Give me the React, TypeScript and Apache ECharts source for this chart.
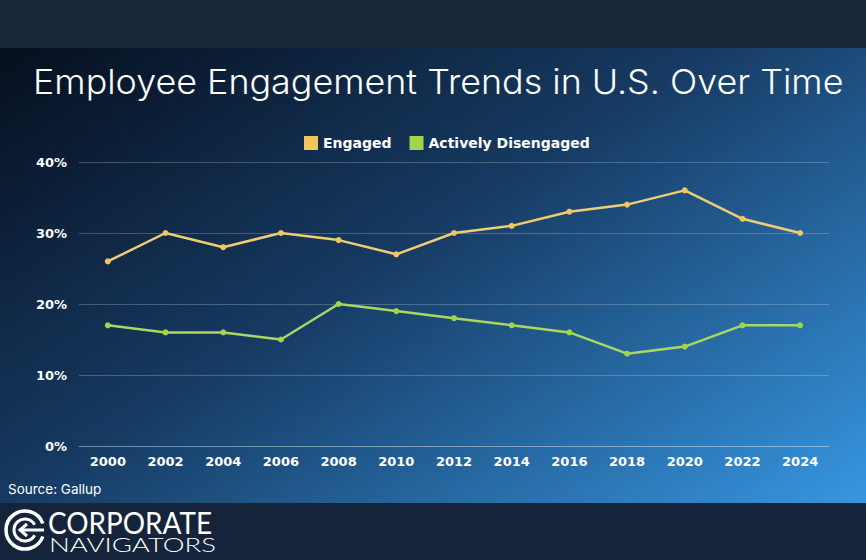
import React, { useEffect, useRef } from "react";
import * as echarts from "echarts";

const years = ["2000", "2002", "2004", "2006", "2008", "2010", "2012", "2014", "2016", "2018", "2020", "2022", "2024"];
const engaged = [26, 30, 28, 30, 29, 27, 30, 31, 33, 34, 36, 32, 30];
const disengaged = [17, 16, 16, 15, 20, 19, 18, 17, 16, 13, 14, 17, 17];
const seriesNames = ["Engaged", "Actively Disengaged"];
const title = "Employee Engagement Trends in U.S. Over Time";
const source = "Source: Gallup";

export default function App() {
  const ref = useRef<HTMLDivElement>(null);
  useEffect(() => {
    document.body.style.margin = "0";
    const chart = echarts.init(ref.current!, undefined, { renderer: "svg" });
    const bold = { color: "#ffffff", fontWeight: 700, fontSize: 13, fontFamily: "DejaVu Sans" };
    chart.setOption({
      animation: false,
      backgroundColor: {
        type: "linear", x: 0, y: 0, x2: 1, y2: 1,
        colorStops: [
          { offset: 0, color: "#040a16" },
          { offset: 0.45, color: "#163a62" },
          { offset: 1, color: "#3aa0ee" },
        ],
      },
      graphic: [
        { type: "rect", left: 0, top: 0, shape: { width: 866, height: 48 }, style: { fill: "#1a263a" }, z: 0 },
        { type: "rect", left: 0, top: 503, shape: { width: 866, height: 57 }, style: { fill: "#15243a" }, z: 0 },
        {
          type: "text", x: 33, y: 64, scaleX: 1.055,
          style: { text: title, fill: "#ffffff", fontSize: 34, fontWeight: 300, fontFamily: "Inter" },
        },
        {
          type: "text", left: 8, top: 482,
          style: { text: source, fill: "#ffffff", fontSize: 13.5, fontFamily: "Inter" },
        },
        // logo icon
        {
          type: "arc", shape: { cx: 25, cy: 530, r: 19, startAngle: 0.35, endAngle: -0.35, clockwise: true },
          style: { stroke: "#ffffff", lineWidth: 3.5, fill: "none" },
        },
        {
          type: "arc", shape: { cx: 25, cy: 530, r: 11, startAngle: 0.5, endAngle: -0.5, clockwise: true },
          style: { stroke: "#ffffff", lineWidth: 3, fill: "none" },
        },
        {
          type: "line", shape: { x1: 44, y1: 530, x2: 20, y2: 530 },
          style: { stroke: "#ffffff", lineWidth: 3 },
        },
        {
          type: "polyline", shape: { points: [[27, 524], [20, 530], [27, 536]] },
          style: { stroke: "#ffffff", lineWidth: 3, fill: "none" },
        },
        {
          type: "text", x: 48, y: 507, scaleX: 0.93,
          style: { text: "CORPORATE", fill: "#ffffff", fontSize: 30, fontFamily: "Lato", fontWeight: 400 },
        },
        {
          type: "text", x: 49, y: 535, scaleX: 1.45,
          style: { text: "NAVIGATORS", fill: "#ffffff", fontSize: 19, fontFamily: "Lato", fontWeight: 300 },
        },
      ],
      legend: {
        left: 299, top: 131,
        itemWidth: 14, itemHeight: 14, icon: "rect", itemGap: 18,
        textStyle: { color: "#ffffff", fontWeight: 700, fontSize: 14, fontFamily: "DejaVu Sans" },
        data: seriesNames,
      },
      grid: { left: 79, right: 37, top: 162, bottom: 114 },
      xAxis: {
        type: "category", data: years, boundaryGap: true,
        axisLine: { show: true, lineStyle: { color: "rgba(255,255,255,0.25)" } },
        axisTick: { show: false },
        axisLabel: { ...bold, margin: 9 },
      },
      yAxis: {
        type: "value", min: 0, max: 40, interval: 10,
        axisLabel: { ...bold, margin: 12, formatter: "{value}%" },
        splitLine: { lineStyle: { color: "rgba(255,255,255,0.22)", width: 1 } },
        axisLine: { show: false },
        axisTick: { show: false },
      },
      series: [
        {
          name: seriesNames[0], type: "line", data: engaged,
          symbol: "circle", symbolSize: 6,
          itemStyle: { color: "#f3c55e" },
          lineStyle: { color: "#f0cc73", width: 2.5 },
        },
        {
          name: seriesNames[1], type: "line", data: disengaged,
          symbol: "circle", symbolSize: 6,
          itemStyle: { color: "#a4d44c" },
          lineStyle: { color: "#a8d862", width: 2.5 },
        },
      ],
    });
    return () => chart.dispose();
  }, []);
  return <div ref={ref} style={{ width: 866, height: 560 }} />;
}
